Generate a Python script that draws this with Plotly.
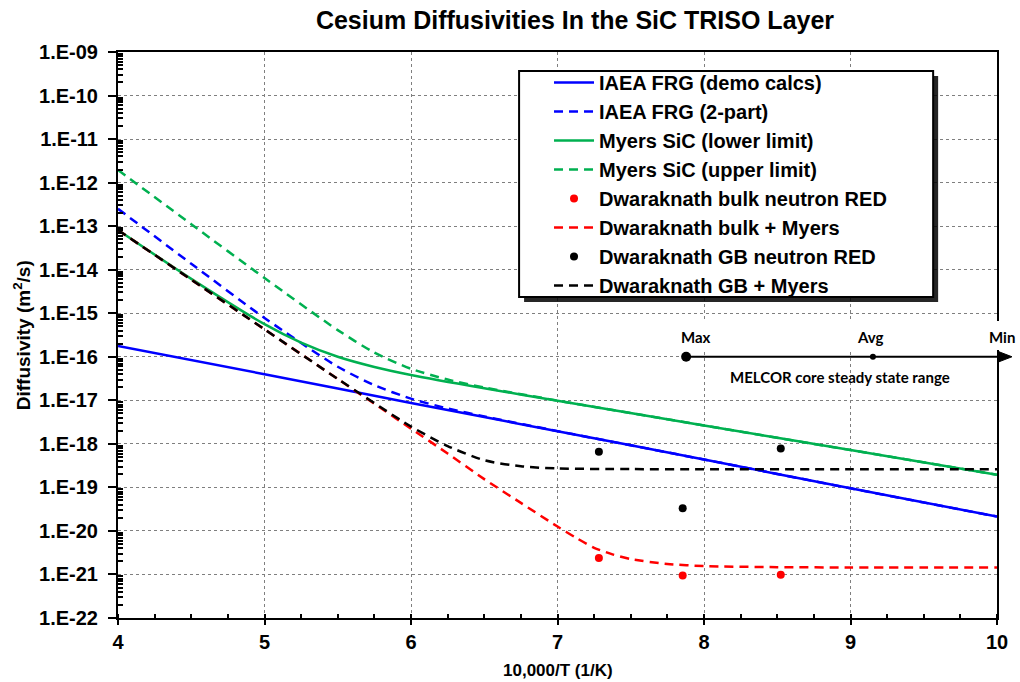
import plotly.graph_objects as go

# ---- data: diffusivity D (m^2/s) versus 10,000/T (1/K) ----
x_frg_demo = [4, 5, 6, 7, 8, 9, 10]
d_frg_demo = [1.78e-16, 3.98e-17, 8.7e-18, 1.95e-18, 4.37e-19, 9.5e-20, 2.14e-20]

x_frg_2part = [4, 4.5, 5, 5.5, 5.75, 6, 6.25, 6.5, 7, 8, 9, 10]
d_frg_2part = [2.5e-13, 1.37e-14, 7.8e-16, 5.9e-17, 2.23e-17, 1.09e-17, 6.5e-18,
               4.27e-18, 1.96e-18, 4.37e-19, 9.5e-20, 2.14e-20]

x_myers_low = [4, 4.5, 5, 5.25, 5.5, 5.75, 6, 6.5, 7, 8, 9, 10]
d_myers_low = [8.18e-14, 6.16e-15, 5.6e-16, 2.11e-16, 1.0e-16, 5.83e-17, 3.82e-17,
               1.89e-17, 9.8e-18, 2.65e-18, 7.2e-19, 1.95e-19]

x_myers_up = [4, 4.5, 5, 5.5, 5.75, 6, 6.25, 6.5, 7, 8, 9, 10]
d_myers_up = [1.95e-12, 1.11e-13, 6.44e-15, 4.1e-16, 1.25e-16, 5.3e-17, 3.0e-17,
              1.97e-17, 9.85e-18, 2.65e-18, 7.2e-19, 1.95e-19]

x_bulk_myers = [4, 4.5, 5, 5.5, 6, 6.25, 6.5, 6.75, 7, 7.125, 7.25, 7.375, 7.5,
                7.75, 8, 8.5, 9, 10]
d_bulk_myers = [8.13e-14, 5.9e-15, 4.27e-16, 3.09e-17, 2.24e-18, 6.0e-19, 1.55e-19,
                4.4e-20, 1.26e-20, 7.0e-21, 4.1e-21, 2.9e-21, 2.25e-21,
                1.74e-21, 1.56e-21, 1.47e-21, 1.45e-21, 1.45e-21]

x_gb_myers = [4, 4.5, 5, 5.5, 6, 6.25, 6.5, 6.75, 7, 7.5, 8, 9, 10]
d_gb_myers = [8.13e-14, 5.9e-15, 4.27e-16, 3.1e-17, 2.5e-18, 8.9e-19, 4.2e-19,
              3.05e-19, 2.72e-19, 2.63e-19, 2.6e-19, 2.6e-19, 2.6e-19]

# neutron radiation-enhanced diffusion points (1100, 1000, 900 C)
x_red = [7.2825, 7.8545, 8.524]
d_bulk_red = [2.4e-21, 9.5e-22, 9.8e-22]
d_gb_red = [6.6e-19, 3.3e-20, 7.8e-19]

# MELCOR core steady-state temperature range markers
melcor_labels = ["Max", "Avg", "Min"]
melcor_x = [7.878, 9.153]
melcor_level = 1e-16

ytick_vals = [1e-22, 1e-21, 1e-20, 1e-19, 1e-18, 1e-17, 1e-16, 1e-15,
              1e-14, 1e-13, 1e-12, 1e-11, 1e-10, 1e-9]
ytick_text = ["1.E-22", "1.E-21", "1.E-20", "1.E-19", "1.E-18", "1.E-17", "1.E-16",
              "1.E-15", "1.E-14", "1.E-13", "1.E-12", "1.E-11", "1.E-10", "1.E-09"]
y_minor = [k * 10.0 ** e for e in range(-22, -9) for k in range(2, 10)]
Y_LOG_MIN, Y_LOG_MAX = -22, -9

BLUE = "#0000FF"
GREEN = "#00B050"
RED = "#FF0000"
BLACK = "#000000"
DASH = "9px,6px"
FONT = "Arial, Liberation Sans, sans-serif"
CAL = "Lato, Open Sans, sans-serif"

fig = go.Figure()
line_kw = dict(mode="lines", line_shape="spline")
fig.add_trace(go.Scatter(x=x_frg_demo, y=d_frg_demo, name="IAEA FRG (demo calcs)",
                         line=dict(color=BLUE, width=2.5, smoothing=0.7), **line_kw))
fig.add_trace(go.Scatter(x=x_frg_2part, y=d_frg_2part, name="IAEA FRG (2-part)",
                         line=dict(color=BLUE, width=2.5, dash=DASH, smoothing=0.7), **line_kw))
fig.add_trace(go.Scatter(x=x_myers_low, y=d_myers_low, name="Myers SiC (lower limit)",
                         line=dict(color=GREEN, width=2.5, smoothing=0.7), **line_kw))
fig.add_trace(go.Scatter(x=x_myers_up, y=d_myers_up, name="Myers SiC (upper limit)",
                         line=dict(color=GREEN, width=2.5, dash=DASH, smoothing=0.7), **line_kw))
fig.add_trace(go.Scatter(x=x_red, y=d_bulk_red, name="Dwaraknath bulk neutron RED",
                         mode="markers", marker=dict(color=RED, size=8)))
fig.add_trace(go.Scatter(x=x_bulk_myers, y=d_bulk_myers, name="Dwaraknath bulk + Myers",
                         line=dict(color=RED, width=2.5, dash=DASH, smoothing=0.6), **line_kw))
fig.add_trace(go.Scatter(x=x_red, y=d_gb_red, name="Dwaraknath GB neutron RED",
                         mode="markers", marker=dict(color=BLACK, size=8)))
fig.add_trace(go.Scatter(x=x_gb_myers, y=d_gb_myers, name="Dwaraknath GB + Myers",
                         line=dict(color=BLACK, width=2.5, dash=DASH, smoothing=0.7), **line_kw))

# MELCOR range dots
fig.add_trace(go.Scatter(x=melcor_x[:1], y=[melcor_level], mode="markers", showlegend=False,
                         marker=dict(color=BLACK, size=10), cliponaxis=False, hoverinfo="skip"))
fig.add_trace(go.Scatter(x=melcor_x[1:], y=[melcor_level], mode="markers", showlegend=False,
                         marker=dict(color=BLACK, size=6), cliponaxis=False, hoverinfo="skip"))

# plot-area geometry in pixels
L, R, T, B = 118, 999, 52, 618
W, H = R - L, B - T


def px_x(p):
    return (p - L) / W


def px_y(p):
    return (B - p) / H


def x_to_paper(v):
    return (v - 4) / 6


# paper height of the MELCOR range arrow (on the 1e-16 level)
arrow_y = 1 - (Y_LOG_MAX - (-16)) / (Y_LOG_MAX - Y_LOG_MIN)
tip, base, half = px_x(1014), px_x(1001), 5 / H

shapes = [
    # legend shadow and frame
    dict(type="rect", xref="paper", yref="paper", layer="above",
         x0=px_x(525), x1=px_x(940), y0=px_y(302), y1=px_y(76),
         fillcolor="rgba(0,0,0,0.85)", line=dict(width=0)),
    dict(type="rect", xref="paper", yref="paper", layer="above",
         x0=px_x(520), x1=px_x(935), y0=px_y(297), y1=px_y(71),
         fillcolor="white", line=dict(color=BLACK, width=2)),
    # white backing behind the range labels
    dict(type="rect", xref="paper", yref="paper", layer="above",
         x0=px_x(675), x1=px_x(1030), y0=px_y(350), y1=px_y(321),
         fillcolor="white", line=dict(width=0)),
    # range arrow: shaft and head
    dict(type="line", xref="paper", yref="paper", layer="above",
         x0=x_to_paper(melcor_x[0]), x1=base + 1 / W, y0=arrow_y, y1=arrow_y,
         line=dict(color=BLACK, width=2)),
    dict(type="path", xref="paper", yref="paper", layer="above",
         path=f"M {tip},{arrow_y} L {base},{arrow_y + half} L {base},{arrow_y - half} Z",
         fillcolor=BLACK, line=dict(color=BLACK, width=1)),
]

lab_font = dict(family=CAL, size=15, color=BLACK, weight="bold")
annotations = [
    dict(xref="paper", yref="paper", x=px_x(697), y=px_y(337), text=melcor_labels[0],
         showarrow=False, xanchor="center", yanchor="middle", font=lab_font),
    dict(xref="paper", yref="paper", x=px_x(872), y=px_y(337), text=melcor_labels[1],
         showarrow=False, xanchor="center", yanchor="middle", font=lab_font),
    dict(xref="paper", yref="paper", x=px_x(1004), y=px_y(337), text=melcor_labels[2],
         showarrow=False, xanchor="center", yanchor="middle", font=lab_font),
    dict(xref="paper", yref="paper", x=px_x(842), y=px_y(377),
         text="MELCOR core steady state range",
         showarrow=False, xanchor="center", yanchor="middle", font=lab_font),
    # axis titles
    dict(xref="paper", yref="paper", x=px_x(22), y=0.5, textangle=-90,
         text="Diffusivity (m<sup>2</sup>/s)", showarrow=False,
         xanchor="center", yanchor="middle",
         font=dict(family=FONT, size=19, color=BLACK, weight="bold")),
    dict(xref="paper", yref="paper", x=0.5, y=px_y(670), text="10,000/T (1/K)",
         showarrow=False, xanchor="center", yanchor="middle",
         font=dict(family=FONT, size=17, color=BLACK, weight="bold")),
]

grid_kw = dict(showgrid=True, gridcolor="#7f7f7f", griddash="dot", gridwidth=1,
               showline=True, linecolor=BLACK, linewidth=2, mirror=True,
               zeroline=False, tickcolor=BLACK)

fig.update_layout(
    width=1020, height=682,
    margin=dict(l=L, r=1020 - R, t=T, b=682 - B),
    paper_bgcolor="white", plot_bgcolor="white",
    font=dict(family=FONT, color=BLACK),
    title=dict(text="Cesium Diffusivities In the SiC TRISO Layer",
               font=dict(family=FONT, size=25, color=BLACK, weight="bold"),
               x=575 / 1020, xref="container", xanchor="center",
               y=1 - 20 / 682, yref="container", yanchor="middle"),
    xaxis=dict(range=[4, 10], dtick=1, tick0=4, ticks="outside", ticklen=5, tickwidth=1.5,
               tickfont=dict(family=FONT, size=20, color=BLACK, weight="bold"),
               minor=dict(dtick=0.25, tick0=4, ticks="inside", ticklen=4, tickcolor=BLACK,
                          showgrid=False),
               **grid_kw),
    yaxis=dict(type="log", range=[Y_LOG_MIN, Y_LOG_MAX], tickmode="array",
               tickvals=ytick_vals, ticktext=ytick_text, ticks="outside", ticklen=8,
               tickwidth=1.5, ticklabelstandoff=6,
               tickfont=dict(family=FONT, size=20, color=BLACK, weight="bold"),
               minor=dict(tickmode="array", tickvals=y_minor, ticks="inside", ticklen=5,
                          tickcolor=BLACK, showgrid=False),
               **grid_kw),
    legend=dict(x=px_x(550), y=px_y(63), xanchor="left", yanchor="top",
                bgcolor="rgba(0,0,0,0)", borderwidth=0, itemwidth=40,
                font=dict(family=FONT, size=20, color=BLACK, weight="bold")),
    shapes=shapes,
    annotations=annotations,
    showlegend=True,
)

fig.write_html("out.html")
